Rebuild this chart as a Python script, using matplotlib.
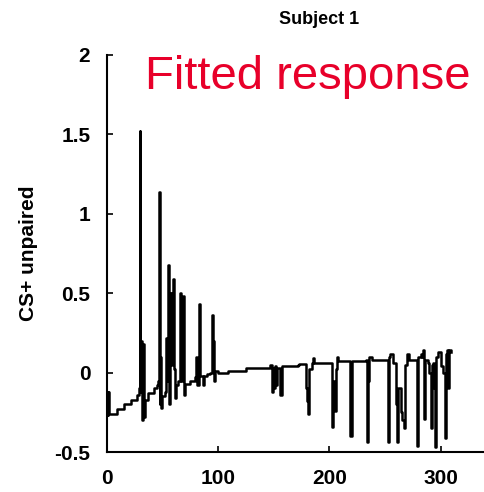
import matplotlib.pyplot as plt

# Fitted response trace (trial index vs. CS+ unpaired)
trial = [0, 0.5, 1, 1.5, 9, 15, 22, 27,
         29, 29.5, 30, 31, 31.5, 32.5, 33, 34, 37, 42, 45, 46,
         46.8, 47.5, 48, 48.5, 49.5, 52, 53, 54, 55, 55.5,
         57, 57.5, 58.5, 59.5, 60, 61, 62, 64, 66, 66.5,
         68.5, 69, 70, 75, 79, 80, 81, 83, 83.5, 86,
         87, 90, 93, 94, 95, 96, 97, 100, 108, 109,
         124, 125, 146, 147, 148, 149, 150, 151, 152, 153,
         156, 157, 158, 172, 173, 178, 179, 180, 181, 182,
         184, 185, 186, 201, 202, 203, 205, 206, 207, 208,
         218, 219, 220, 233, 234, 235, 236, 238, 252, 253,
         254, 255, 257, 260, 261, 262, 264, 265, 267, 268,
         270, 272, 278, 279, 280, 282, 283, 284, 285, 286,
         289, 290, 291, 292, 293, 294, 295, 296, 298, 300,
         302, 304, 305, 306, 307, 308, 309]
response = [-0.12, -0.27, -0.12, -0.26, -0.23, -0.2, -0.17, -0.14,
            -0.1, 1.52, -0.12, 0.2, -0.3, 0.18, -0.28, -0.17, -0.13, -0.1, -0.08, -0.05,
            1.14, -0.2, 0.1, -0.22, -0.15, -0.12, 0.22, -0.05, 0.68, -0.2,
            0.5, 0.05, 0.5, 0.59, 0.02, -0.16, -0.08, -0.05, 0.5, -0.05,
            0.48, -0.14, -0.07, -0.05, -0.03, 0.1, -0.08, 0.43, -0.02, -0.08,
            -0.02, -0.01, 0.0, 0.36, 0.2, -0.05, 0.01, 0.0, 0.0, 0.01,
            0.01, 0.03, 0.03, 0.05, -0.12, 0.03, -0.1, 0.04, -0.08, 0.03,
            -0.14, 0.04, 0.04, 0.045, 0.055, 0.055, -0.1, -0.18, -0.26, 0.02,
            0.06, 0.09, 0.06, 0.06, -0.34, -0.05, -0.24, 0.02, 0.1, 0.07,
            0.07, -0.4, 0.07, 0.08, -0.44, -0.05, 0.1, 0.08, 0.08, -0.44,
            0.1, 0.12, 0.06, -0.2, -0.44, -0.1, -0.25, -0.3, -0.35, 0.05,
            0.12, 0.08, 0.08, -0.46, 0.1, 0.12, 0.1, 0.14, -0.29, 0.08,
            0.06, 0.0, -0.35, 0.05, 0.06, -0.1, -0.47, 0.1, 0.13, 0.04,
            0.0, -0.41, 0.12, 0.14, -0.1, 0.14, 0.13]

xticks = [0, 100, 200, 300]
yticks = [-0.5, 0, 0.5, 1, 1.5, 2]
ytick_labels = ['-0.5', '0', '0.5', '1', '1.5', '2']

plt.rcParams['font.family'] = ['Liberation Sans', 'DejaVu Sans']

fig = plt.figure(figsize=(4.85, 4.92), dpi=100)
ax = fig.add_axes([107 / 485, 40 / 492, 378 / 485, 397 / 492])

# step-like trace, as in the original
ax.plot(trial, response, color='black', linewidth=1.8, drawstyle='steps-post')

ax.set_xlim(0, 340)
ax.set_ylim(-0.5, 2)
ax.set_xticks(xticks)
ax.set_yticks(yticks)
ax.set_yticklabels(ytick_labels)
ax.tick_params(direction='in', length=4, width=1.2, labelsize=15, pad=12)
for lab in ax.get_xticklabels() + ax.get_yticklabels():
    lab.set_fontweight('bold')

ax.spines['top'].set_visible(False)
ax.spines['right'].set_visible(False)
ax.spines['left'].set_linewidth(1.5)
ax.spines['bottom'].set_linewidth(1.5)

ax.set_ylabel('CS+ unpaired', fontsize=15, fontweight='bold', labelpad=12)

fig.text(319 / 485, 1 - 20 / 492, 'Subject 1', fontsize=13, fontweight='bold',
         ha='center', va='center')
fig.text(145 / 485, 1 - 77 / 492, 'Fitted response', fontsize=34,
         color='#e8002a', ha='left', va='center')

fig.savefig('out.png', dpi=100)
